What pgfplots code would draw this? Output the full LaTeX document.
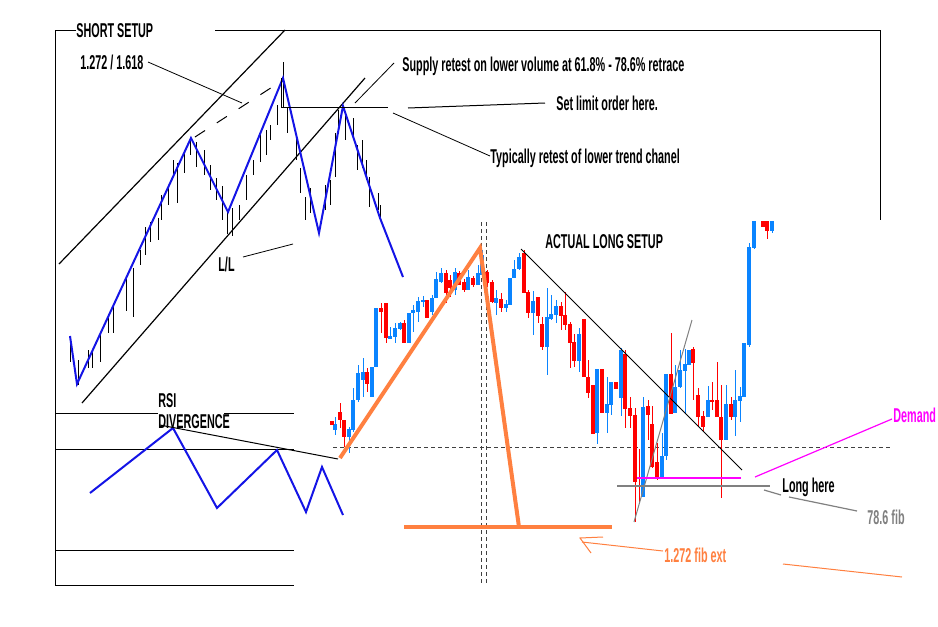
\documentclass[border=0pt]{standalone}
\usepackage{pgfplots}
\usepackage{pgfplotstable}
\pgfplotsset{compat=1.18}
\usepackage{fontspec}
\setmainfont{Liberation Sans Bold}[FakeStretch=0.54]

\definecolor{cblue}{HTML}{0A84FF}
\definecolor{cred}{HTML}{FF0000}
\definecolor{zig}{HTML}{1414E6}
\definecolor{orng}{HTML}{FF8040}
\definecolor{mag}{HTML}{FF00FF}
\definecolor{fib}{HTML}{808080}

% candles in picture pixels (y grows downward): x, wick top, wick bottom, body top, body bottom
\pgfplotstableread{
x   wt  wb  bt  bb
335 417 435 424 430
349 427 453 429 437
353 388 432 400 430
358 365 402 373 400
363 358 397 372 380
372 367 397 367 397
376 308 367 308 367
390 327 339 336 339
395 323 343 328 337
400 322 330 323 329
409 313 343 313 343
413 305 332 310 313
418 297 322 301 312
423 296 307 300 302
432 295 315 298 312
436 272 298 279 298
441 268 283 273 282
455 268 295 272 290
468 270 290 277 290
478 265 285 273 285
482 250 278 255 275
496 290 315 298 303
506 300 312 304 308
510 278 305 278 305
514 260 278 269 278
519 253 270 257 269
533 291 335 301 313
547 288 375 317 347
551 295 320 314 319
556 300 323 306 315
579 328 372 334 361
597 369 444 369 433
607 377 433 404 413
611 382 415 382 405
621 348 416 350 398
643 397 497 407 497
662 433 478 456 478
666 374 460 374 456
675 365 413 387 413
680 350 388 370 387
685 349 413 364 371
689 350 365 350 365
708 386 417 400 417
726 385 440 404 440
735 370 436 400 417
740 387 422 396 401
744 343 397 343 397
749 243 347 247 345
754 221 249 221 248
772 221 233 221 231
}\bullish

\pgfplotstableread{
x   wt  wb  bt  bb
332 421 425 421 425
340 403 428 412 420
344 420 447 420 437
367 368 392 372 384
381 303 333 308 312
386 303 343 303 338
404 320 343 323 343
427 300 318 300 318
446 270 303 273 293
450 275 297 280 288
459 271 285 273 285
464 279 292 282 290
473 276 287 278 285
487 270 287 272 283
492 280 303 282 302
501 293 312 299 308
524 250 293 253 293
528 290 318 292 313
538 297 323 297 316
542 317 350 324 347
561 302 330 306 316
565 292 330 315 325
570 322 368 324 343
574 334 367 342 361
584 319 377 319 377
588 360 398 377 393
593 385 434 385 434
602 369 413 369 413
616 382 389 382 389
625 350 428 354 409
630 397 428 408 416
635 408 522 415 482
639 449 503 476 476
648 400 440 406 415
652 406 468 424 467
657 443 480 462 478
671 333 414 374 414
693 347 400 349 363
698 388 427 395 417
703 411 432 416 427
712 382 410 400 402
717 362 417 400 417
721 385 498 417 440
731 397 420 404 417
763 221 227 221 227
767 221 239 221 231
}\bearish

% bar ranges of the short-setup sketch: x, top, bottom
\pgfplotstableread{
x   t   b
70  336 362
78  360 385
88  350 368
92  352 368
100 335 362
108 318 333
113 305 333
126 277 311
133 268 317
140 250 265
145 227 255
150 222 242
158 218 240
161 195 220
168 188 205
173 160 175
177 163 203
184 153 173
190 138 155
196 142 167
204 150 175
210 165 190
216 178 200
222 186 220
227 212 234
232 208 236
239 205 220
246 175 200
253 160 175
260 134 162
266 130 155
270 125 140
277 105 125
283 62  107
287 107 133
296 133 160
300 168 193
305 197 220
310 188 213
325 185 210
330 180 205
335 133 177
338 110 130
345 113 140
353 118 137
357 145 170
362 140 168
366 160 180
369 177 207
378 193 210
380 205 218
}\sketchbars

\pgfplotsset{
  rng/.style 2 args={draw=none, mark=none, forget plot,
    error bars/.cd, y dir=both, y explicit, error mark=none,
    error bar style={draw=#1, line width=#2}},
}
\tikzset{lbl/.style={font=\fontsize{10}{12}\selectfont, inner sep=0pt, anchor=west}}

\begin{document}
\begin{tikzpicture}
\begin{axis}[
    scale only axis,
    width=469pt, height=313.5pt,
    xmin=0, xmax=938, ymin=0, ymax=627,
    y dir=reverse,
    axis lines=none,
    axis background/.style={fill=white},
    clip=false,
]
\coordinate (bl) at (axis cs:0,627);
\coordinate (tr) at (axis cs:938,0);

% ---------- short setup frame ----------
\addplot[black, line width=0.5pt] coordinates {(76,30)(55,30)(55,585)};
\addplot[black, line width=0.5pt] coordinates {(215,30)(880,30)(880,220)};

% channel lines
\addplot[black, line width=0.6pt] coordinates {(59,264)(285,30)};
\addplot[black, line width=0.6pt] coordinates {(82,403)(365,78)};
\addplot[black, line width=0.5pt, dash pattern=on 6pt off 7pt] coordinates {(195,137)(280,82)};

% sketch bars
\addplot[rng={black}{0.5pt}]
    table[x=x, y expr=(\thisrow{t}+\thisrow{b})/2, y error expr=(\thisrow{b}-\thisrow{t})/2] {\sketchbars};

% zig-zag
\addplot[zig, line width=1pt] coordinates {
    (70,336)(77,384)(191,138)(228,212)(283,78)(319,233)(343,106)(380,218)(403,277)};

% limit level
\addplot[black, line width=0.5pt] coordinates {(281,78)(281,107)(388,107)};
\addplot[black, line width=0.5pt] coordinates {(408,108)(545,103)};

% leaders
\addplot[black, line width=0.4pt] coordinates {(148,62)(242,103)};
\addplot[black, line width=0.4pt] coordinates {(355,103)(394,63)};
\addplot[black, line width=0.4pt] coordinates {(393,113)(490,156)};
\addplot[black, line width=0.4pt] coordinates {(243,257)(293,244)};

% ---------- RSI panel ----------
\addplot[black, line width=0.5pt] coordinates {(55,413)(158,413)};
\addplot[black, line width=0.5pt] coordinates {(224,413)(294,413)};
\addplot[black, line width=0.5pt] coordinates {(55,449)(294,449)};
\addplot[black, line width=0.5pt] coordinates {(55,550)(294,550)};
\addplot[black, line width=0.5pt] coordinates {(55,585)(294,585)};
\addplot[zig, line width=1pt] coordinates {
    (90,493)(173,428)(217,508)(277,450)(306,512)(322,467)(343,515)};
\addplot[black, line width=0.5pt] coordinates {(160,425)(338,459)};

% ---------- actual long setup ----------
\addplot[black!75, line width=0.5pt, dash pattern=on 2pt off 1.5pt] coordinates {(333,447)(892,447)};
\addplot[black!75, line width=0.5pt, dash pattern=on 2pt off 1.5pt] coordinates {(481,222)(481,585)};
\addplot[black!75, line width=0.5pt, dash pattern=on 2pt off 1.5pt] coordinates {(486,222)(486,585)};

% candles
\addplot[rng={cblue}{0.5pt}]
    table[x=x, y expr=(\thisrow{wt}+\thisrow{wb})/2, y error expr=(\thisrow{wb}-\thisrow{wt})/2] {\bullish};
\addplot[rng={cblue}{2pt}]
    table[x=x, y expr=(\thisrow{bt}+\thisrow{bb})/2, y error expr=(\thisrow{bb}-\thisrow{bt})/2] {\bullish};
\addplot[rng={cred}{0.5pt}]
    table[x=x, y expr=(\thisrow{wt}+\thisrow{wb})/2, y error expr=(\thisrow{wb}-\thisrow{wt})/2] {\bearish};
\addplot[rng={cred}{2pt}]
    table[x=x, y expr=(\thisrow{bt}+\thisrow{bb})/2, y error expr=(\thisrow{bb}-\thisrow{bt})/2] {\bearish};

% trend lines
\addplot[black, line width=0.5pt] coordinates {(521,249)(742,470)};
\addplot[fib, line width=0.5pt] coordinates {(634,522)(692,320)};

% fib swing
\addplot[orng, line width=2pt] coordinates {(340,458)(480,248)(519,527)};
\addplot[orng, line width=2pt] coordinates {(404,527)(612,527)};

% levels
\addplot[mag, line width=0.7pt] coordinates {(637,478)(741,478)};
\addplot[fib, line width=0.7pt] coordinates {(617,486)(770,486)};
\addplot[mag, line width=0.6pt] coordinates {(755,477)(892,419)};
\addplot[fib, line width=0.6pt] coordinates {(764,490)(781,495)};
\addplot[fib, line width=0.6pt] coordinates {(789,497)(857,511)};

% orange pointers
\addplot[orng, line width=0.5pt] coordinates {(603,537)(580,538)(591,553)};
\addplot[orng, line width=0.5pt] coordinates {(582,542)(663,551)};
\addplot[orng, line width=0.5pt] coordinates {(783,564)(902,577)};

% ---------- texts ----------
\node[lbl] at (axis cs:76,31) {SHORT SETUP};
\node[lbl] at (axis cs:80,62) {1.272 / 1.618};
\node[lbl] at (axis cs:402,66) {Supply retest on lower volume at 61.8\% - 78.6\% retrace};
\node[lbl] at (axis cs:556,103) {Set limit order here.};
\node[lbl] at (axis cs:490,158) {Typically retest of lower trend chanel};
\node[lbl] at (axis cs:218,264) {L/L};
\node[lbl] at (axis cs:158,401) {RSI};
\node[lbl] at (axis cs:158,422) {DIVERGENCE};
\node[lbl] at (axis cs:545,242) {ACTUAL LONG SETUP};
\node[lbl, text=mag] at (axis cs:893,415) {Demand};
\node[lbl] at (axis cs:782,487) {Long here};
\node[lbl, text=fib] at (axis cs:867,517) {78.6 fib};
\node[lbl, text=orng] at (axis cs:664,555) {1.272 fib ext};

\end{axis}
\pgfresetboundingbox
\path[use as bounding box] (bl) rectangle (tr);
\end{tikzpicture}
\end{document}
